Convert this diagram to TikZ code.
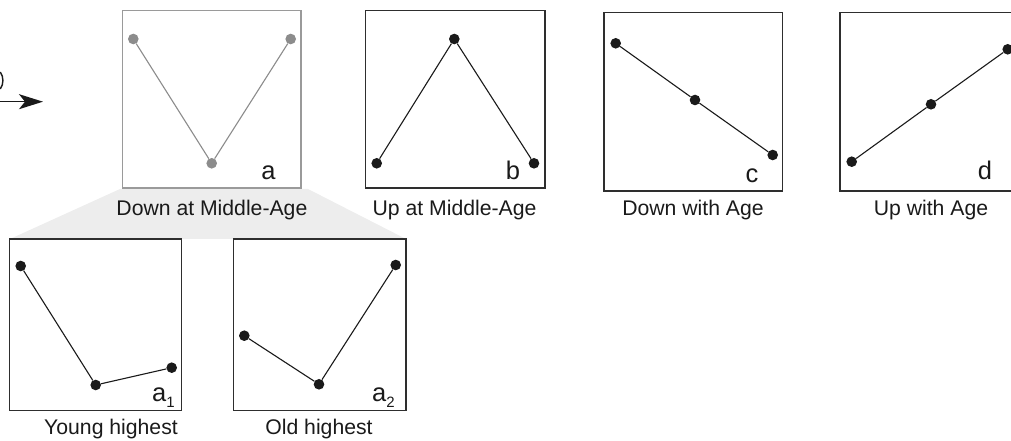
\documentclass[tikz,border=0pt]{standalone}
\usepackage{fontspec}
\setmainfont{Liberation Sans}
\usetikzlibrary{arrows.meta}
\definecolor{frame}{HTML}{2E2E2E}
\definecolor{lightframe}{HTML}{9A9A9A}
\definecolor{dotgray}{HTML}{8C8C8C}
\definecolor{shadegray}{HTML}{EDEDED}
\definecolor{ink}{HTML}{1A1A1A}
\tikzset{
  panel/.style={draw=frame, line width=1.3pt, inner sep=0pt, fill=white},
  graypanel/.style={draw=lightframe, line width=1.3pt, inner sep=0pt, fill=white},
  dot/.style={circle, fill=ink, inner sep=0pt, minimum size=10.6pt},
  graydot/.style={circle, fill=dotgray, inner sep=0pt, minimum size=10.6pt},
  link/.style={draw=ink, line width=1.1pt},
  graylink/.style={draw=dotgray, line width=1.1pt},
  caption/.style={anchor=base, inner sep=0pt, font=\fontsize{21.2}{25}\selectfont, text=ink},
  letter/.style={anchor=base, inner sep=0pt, font=\fontsize{25.5}{30}\selectfont, text=ink},
}
\begin{document}
\begin{tikzpicture}[x=1pt,y=1pt]
\clip (0,0) rectangle (1011,441);
% trapezoid band
\fill[shadegray] (120,252) -- (308,252) -- (406,202) -- (10,202) -- cycle;
% panels
\node[graypanel, minimum width=178.3pt, minimum height=177.3pt] (A) at (211.85,341.65) {};
\node[panel, minimum width=179.3pt, minimum height=177.3pt] (B) at (455.35,341.65) {};
\node[panel, minimum width=178.7pt, minimum height=178.3pt] (C) at (693.35,339.15) {};
\node[panel, minimum width=178.7pt, minimum height=178.3pt] (D) at (929.35,339.15) {};
\node[panel, minimum width=172.4pt, minimum height=171.7pt] (A1) at (95.5,116.15) {};
\node[panel, minimum width=172.7pt, minimum height=171.7pt] (A2) at (319.65,116.15) {};
% arrow and fragment at the left edge
\coordinate (arrS) at (0,339.3);
\coordinate (arrE) at (43,339.3);
\draw[ink, line width=1.5pt, -{Stealth[length=24pt,width=15pt,inset=6pt]}] (arrS) -- (arrE);
\coordinate (fragS) at (0.3,369);
\coordinate (fragE) at (0.3,352);
\draw[ink, line width=1.4pt] (fragS) .. controls (3.8,364) and (3.8,357) .. (fragE);
% panel a dots
\node[graydot] (a1) at (133.3,402) {};
\node[graydot] (a2) at (211.7,277.7) {};
\node[graydot] (a3) at (290.7,402) {};
\draw[graylink] (a1) -- (a2) -- (a3);
% panel b
\node[dot] (b1) at (376.7,277.7) {};
\node[dot] (b2) at (454.3,402) {};
\node[dot] (b3) at (534,277.7) {};
\draw[link] (b1) -- (b2) -- (b3);
% panel c
\node[dot] (c1) at (615.7,397.7) {};
\node[dot] (c2) at (695,341) {};
\node[dot] (c3) at (772.7,286) {};
\draw[link] (c1) -- (c2) -- (c3);
% panel d
\node[dot] (d1) at (851.7,279.3) {};
\node[dot] (d2) at (931,336.7) {};
\node[dot] (d3) at (1007.7,391.7) {};
\draw[link] (d1) -- (d2) -- (d3);
% panel a1
\node[dot] (p1) at (20.7,175) {};
\node[dot] (p2) at (95.7,56) {};
\node[dot] (p3) at (171.7,73.3) {};
\draw[link] (p1) -- (p2) -- (p3);
% panel a2
\node[dot] (q1) at (244.3,105.3) {};
\node[dot] (q2) at (319,56.7) {};
\node[dot] (q3) at (395.7,176) {};
\draw[link] (q1) -- (q2) -- (q3);
% panel letters
\node[letter] (la) at (268.5,261) {a};
\node[letter] (lb) at (513,261) {b};
\node[letter] (lc) at (752,258.3) {c};
\node[letter] (ld) at (985,261) {d};
\node[letter, anchor=base west] (la1) at (152,39) {a\raisebox{-6pt}{\fontsize{15}{15}\selectfont 1}};
\node[letter, anchor=base west] (la2) at (372,39) {a\raisebox{-6pt}{\fontsize{15}{15}\selectfont 2}};
% captions
\node[caption] (ta) at (211.9,225) {Down at Middle-Age};
\node[caption] (tb) at (454.5,225) {Up at Middle-Age};
\node[caption] (tc) at (693,225) {Down with Age};
\node[caption] (td) at (931,225) {Up with Age};
\node[caption] (ta1) at (111,6) {Young highest};
\node[caption] (ta2) at (319,6) {Old highest};
\end{tikzpicture}
\end{document}
